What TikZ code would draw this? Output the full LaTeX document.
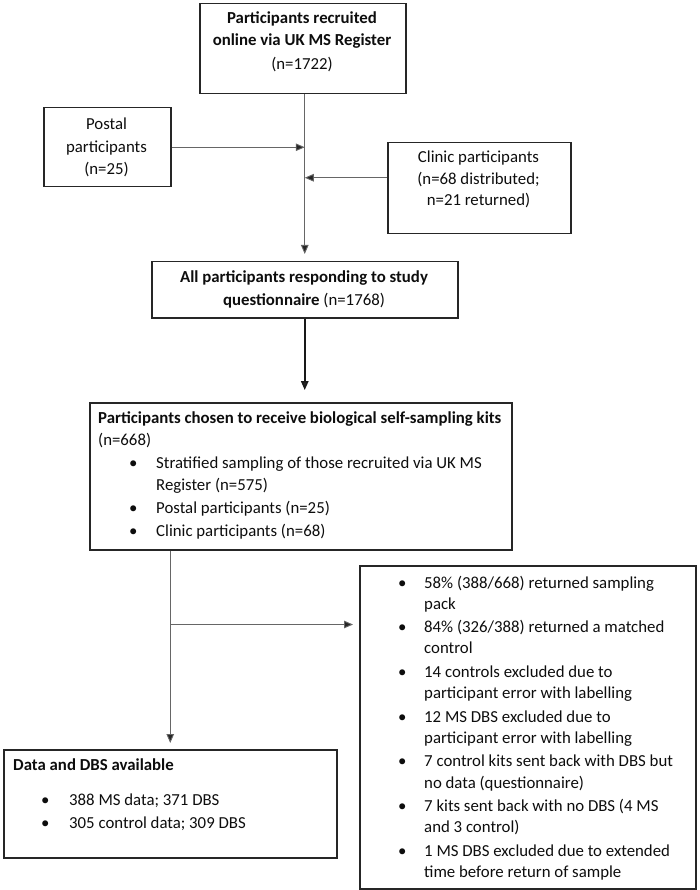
\documentclass[tikz,border=0pt]{standalone}
\usepackage{fontspec}
\setmainfont{Carlito}
\usetikzlibrary{arrows.meta,calc}
\newcommand\mybul[1]{\makebox[0pt]{\textbullet}\hspace{#1}}
\begin{document}
\begin{tikzpicture}[x=1pt,y=-1pt,
  box/.style={draw=black!85, line width=1.5pt, inner sep=0pt, anchor=north west, fill=none},
  conn/.style={draw=black!60, line width=0.9pt},
  arr/.style={conn, -{Triangle[length=9pt,width=7.5pt,fill=black!85]}},
  txt/.style={inner sep=0pt, font=\fontsize{16.8}{21.2}\selectfont, text=black!95},
]
\useasboundingbox (0,0) rectangle (700,890);

% boxes
\node[box, minimum width=206pt, minimum height=90pt] (b1) at (199,3) {};
\node[box, minimum width=127pt, minimum height=79pt] (postal) at (43,107) {};
\node[box, minimum width=183pt, minimum height=91pt] (clinic) at (387,142) {};
\node[box, minimum width=306pt, minimum height=56pt] (b2) at (151,261) {};
\node[box, minimum width=422pt, minimum height=147pt] (b3) at (89,402) {};
\node[box, minimum width=333pt, minimum height=108pt] (b4) at (3,749) {};
\node[box, minimum width=336pt, minimum height=323pt] (rb) at (359,565) {};

% texts
\node[txt, anchor=base] (t1) at (302,24) {\begin{tabular}[t]{@{}c@{}}\bfseries Participants recruited\\ \bfseries online via UK MS Register\\[3pt] (n=1722)\end{tabular}};
\node[txt, anchor=base] (tp) at (106.5,130) {\begin{tabular}[t]{@{}c@{}}Postal\\[1pt] participants\\[1.5pt] (n=25)\end{tabular}};
\node[txt, anchor=base] (tc) at (478.5,163) {\begin{tabular}[t]{@{}c@{}}Clinic participants\\ (n=68 distributed;\\ n=21 returned)\end{tabular}};
\node[txt, anchor=base] (t2) at (304,283) {\begin{tabular}[t]{@{}c@{}}\bfseries All participants responding to study\\[1pt] \textbf{questionnaire} (n=1768)\end{tabular}};
\node[txt, anchor=base west, font=\fontsize{16.8}{22.6}\selectfont] (t3) at (98,423) {\begin{tabular}[t]{@{}l@{}}
\bfseries Participants chosen to receive biological self-sampling kits\\
(n=668)\\
\hspace*{35pt}\mybul{23pt}Stratified sampling of those recruited via UK MS\\
\hspace*{58pt}Register (n=575)\\
\hspace*{35pt}\mybul{23pt}Postal participants (n=25)\\
\hspace*{35pt}\mybul{23pt}Clinic participants (n=68)
\end{tabular}};
\node[txt, anchor=base west] (t4) at (13,770) {\begin{tabular}[t]{@{}l@{}}
\bfseries Data and DBS available\\[13.8pt]
\hspace*{32pt}\mybul{24pt}388 MS data; 371 DBS\\[1.8pt]
\hspace*{32pt}\mybul{24pt}305 control data; 309 DBS
\end{tabular}};
\node[txt, anchor=base west] (tr) at (402,588) {\begin{tabular}[t]{@{}l@{}}
\mybul{22pt}58\% (388/668) returned sampling\\
\hspace*{22pt}pack\\[2.3pt]
\mybul{22pt}84\% (326/388) returned a matched\\
\hspace*{22pt}control\\[2.3pt]
\mybul{22pt}14 controls excluded due to\\
\hspace*{22pt}participant error with labelling\\[2.3pt]
\mybul{22pt}12 MS DBS excluded due to\\
\hspace*{22pt}participant error with labelling\\[2.3pt]
\mybul{22pt}7 control kits sent back with DBS but\\
\hspace*{22pt}no data (questionnaire)\\[2.3pt]
\mybul{22pt}7 kits sent back with no DBS (4 MS\\
\hspace*{22pt}and 3 control)\\[2.3pt]
\mybul{22pt}1 MS DBS excluded due to extended\\
\hspace*{22pt}time before return of sample
\end{tabular}};

% connectors
\draw[arr] (b1.south -| b2.north) -- ([yshift=7pt]b2.north);
\draw[arr] (postal.east) -- (postal.east -| b2.north);
\draw[arr] ([yshift=10.5pt]clinic.west) -- ([yshift=10.5pt]clinic.west -| b2.north);
\draw[arr, draw=black!90, line width=1.5pt] (b2.south) -- ([yshift=12pt]b3.north -| b2.south);
\draw[arr] (b3.south -| b4.north) -- ([yshift=6pt]b4.north);
\coordinate (br) at ($(b3.south -| b4.north)+(0,74)$);
\draw[arr] (br) -- ([xshift=-6pt]rb.west |- br);
\end{tikzpicture}
\end{document}
